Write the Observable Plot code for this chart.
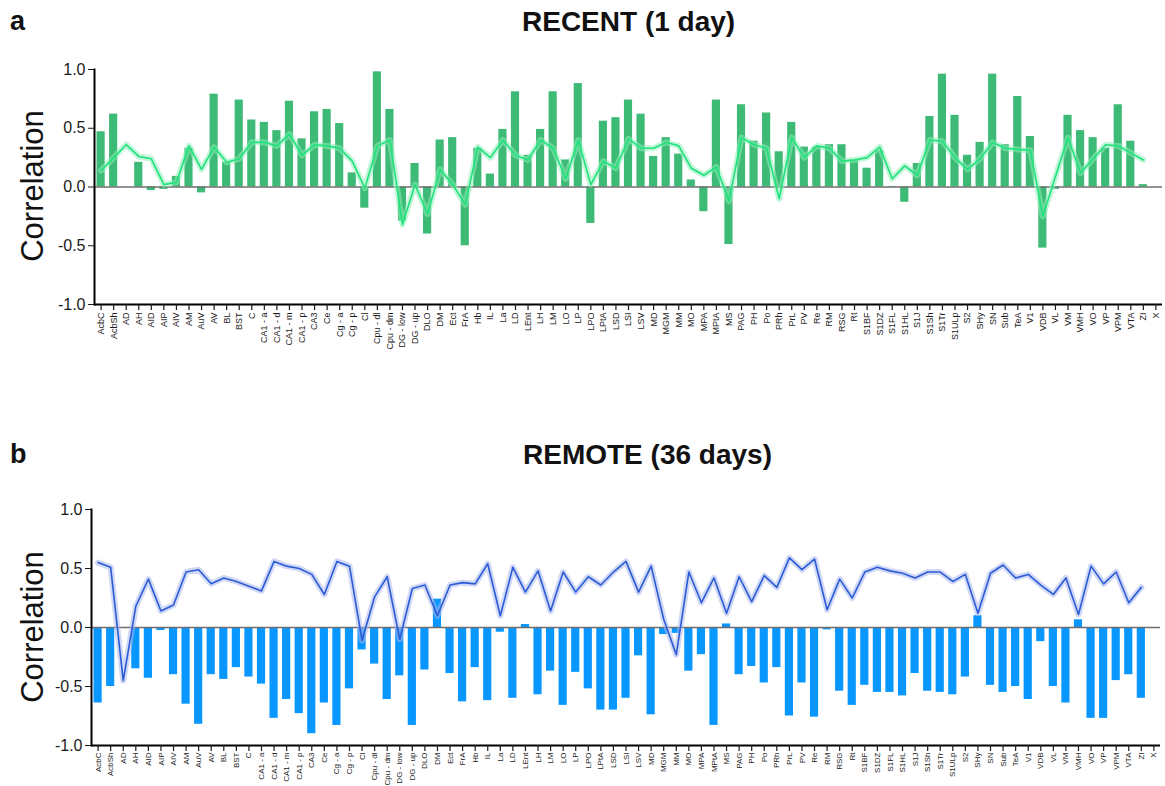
<!DOCTYPE html>
<html><head><meta charset="utf-8">
<script src="https://cdn.jsdelivr.net/npm/d3@7"></script>
<script src="https://cdn.jsdelivr.net/npm/@observablehq/plot@0.6"></script>
<style>
body{margin:0;background:#fff;overflow:hidden;font-family:"Liberation Sans",Arial,sans-serif;}
#wrap{position:relative;width:1165px;height:786px;overflow:hidden;background:#fff;}
.abs{position:absolute;}
.letter{font-weight:bold;font-size:27px;line-height:1;color:#111;}
.title{font-weight:bold;font-size:28px;line-height:1;white-space:nowrap;color:#111;}
.ylab{font-size:31px;line-height:1;white-space:nowrap;color:#111;transform:translate(-50%,-50%) rotate(-90deg);}
</style></head><body><div id="wrap"></div>
<script>
const regions = ["AcbC","AcbSh","AD","AH","AID","AIP","AIV","AM","AuV","AV","BL","BST","C","CA1 - a","CA1 - d","CA1 - m","CA1 - p","CA3","Ce","Cg - a","Cg - p","Cl","Cpu - dl","Cpu - dm","DG - low","DG - up","DLO","DM","Ect","FrA","Hb","IL","La","LD","LEnt","LH","LM","LO","LP","LPO","LPtA","LSD","LSI","LSV","MD","MGM","MM","MO","MPA","MPtA","MS","PAG","PH","Po","PRh","PrL","PV","Re","RM","RSG","Rt","S1BF","S1DZ","S1FL","S1HL","S1J","S1Sh","S1Tr","S1ULp","S2","SHy","SN","Sub","TeA","V1","VDB","VL","VM","VMH","VO","VP","VPM","VTA","ZI","X"];

const recentBars = [0.47,0.62,null,0.21,-0.03,-0.02,0.09,0.33,-0.05,0.79,0.21,0.74,0.57,0.55,0.48,0.73,0.41,0.64,0.66,0.54,0.12,-0.18,0.98,0.66,-0.29,0.20,-0.40,0.40,0.42,-0.50,0.33,0.11,0.49,0.81,0.27,0.49,0.81,0.23,0.88,-0.31,0.56,0.59,0.74,0.62,0.26,0.42,0.28,0.06,-0.21,0.74,-0.49,0.70,0.39,0.63,0.30,0.55,0.34,0.34,0.36,0.36,0.23,0.16,0.31,0.005,-0.13,0.20,0.60,0.96,0.61,0.27,0.38,0.96,0.36,0.77,0.43,-0.52,-0.02,0.61,0.48,0.42,0.33,0.70,0.39,0.02,null];

const recentLine = [0.14,0.25,0.36,0.26,0.24,0.02,0.04,0.35,0.15,0.34,0.21,0.24,0.38,0.38,0.35,0.45,0.27,0.36,0.35,0.33,0.22,-0.01,0.35,0.40,-0.32,0.02,-0.23,0.15,0.02,-0.15,0.34,0.25,0.40,0.27,0.23,0.40,0.33,0.07,0.40,0.02,0.22,0.16,0.41,0.33,0.33,0.38,0.35,0.16,0.10,0.17,-0.12,0.42,0.36,0.33,-0.10,0.42,0.25,0.35,0.33,0.22,0.23,0.25,0.34,0.07,0.18,0.10,0.40,0.39,0.25,0.15,0.24,0.38,0.33,0.32,0.31,-0.25,0.09,0.42,0.12,0.24,0.36,0.35,0.29,0.23,null];

const remoteBars = [-0.64,-0.50,null,-0.35,-0.43,-0.025,-0.40,-0.65,-0.82,-0.40,-0.44,-0.34,-0.42,-0.48,-0.77,-0.61,-0.73,-0.90,-0.64,-0.83,-0.52,-0.19,-0.31,-0.61,-0.41,-0.83,-0.36,0.24,-0.39,-0.63,-0.34,-0.62,-0.04,-0.60,0.025,-0.57,-0.37,-0.66,-0.38,-0.52,-0.70,-0.70,-0.60,-0.24,-0.74,-0.06,-0.05,-0.37,-0.23,-0.83,0.03,-0.40,-0.33,-0.47,-0.34,-0.75,-0.47,-0.76,-0.02,-0.54,-0.66,-0.49,-0.55,-0.55,-0.58,-0.39,-0.54,-0.55,-0.57,-0.42,0.10,-0.49,-0.55,-0.50,-0.61,-0.12,-0.50,-0.64,0.065,-0.77,-0.77,-0.45,-0.40,-0.60,null];

const remoteLine = [0.55,0.51,-0.45,0.18,0.41,0.14,0.19,0.47,0.49,0.37,0.42,0.39,0.35,0.31,0.56,0.52,0.50,0.45,0.28,0.56,0.52,-0.11,0.26,0.43,-0.10,0.33,0.36,0.10,0.36,0.38,0.37,0.54,0.10,0.51,0.30,0.48,0.14,0.47,0.30,0.43,0.36,0.47,0.56,0.30,0.52,0.07,-0.23,0.47,0.21,0.42,0.12,0.43,0.22,0.44,0.34,0.59,0.49,0.58,0.15,0.41,0.25,0.47,0.51,0.48,0.46,0.42,0.47,0.47,0.39,0.45,0.12,0.46,0.53,0.42,0.45,0.36,0.28,0.42,0.11,0.52,0.37,0.47,0.21,0.34,null];

const yTicks = [-1, -0.5, 0, 0.5, 1];

function panel({bars, line, barColor, lineColor, bandColor, height, marginBottom, marginLeft, marginRight, labelSize, labelPad}) {
  const data = regions.map((r, i) => ({r, bar: bars[i], line: line[i]}));
  return Plot.plot({
    width: 1165, height, marginTop: 69, marginBottom, marginLeft, marginRight,
    x: {type: "band", domain: regions, paddingInner: 0.35, paddingOuter: 0.2},
    y: {domain: [-1, 1]},
    style: {fontFamily: "Liberation Sans, Arial, sans-serif", fontSize: labelSize + "px", color: "#1a1a1a", background: "transparent", overflow: "visible"},
    marks: [
      Plot.barY(data.filter(d => d.bar != null), {x: "r", y: "bar", fill: barColor}),
      Plot.ruleY([0], {stroke: "#6e6e6e", strokeWidth: 1.3}),
      Plot.line(data, {x: "r", y: "line", stroke: bandColor, strokeWidth: 6, strokeOpacity: 0.55}),
      Plot.line(data, {x: "r", y: "line", stroke: lineColor, strokeWidth: 1.6}),
      Plot.frame({anchor: "left", stroke: "#000", strokeWidth: 2}),
      Plot.ruleY([-1], {stroke: "#000", strokeWidth: 2}),
      Plot.axisY({ticks: yTicks, tickFormat: d => d.toFixed(1), fontSize: 16, tickSize: 6, tickPadding: 3, label: null}),
      Plot.axisX({tickRotate: -90, tickSize: 6, tickPadding: labelPad, label: null, fontSize: labelSize, strokeWidth: 1.2})
    ]
  });
}

const wrap = document.getElementById("wrap");
function addDiv(cls, text, left, top) {
  const d = document.createElement("div");
  d.className = "abs " + cls;
  d.textContent = text;
  d.style.left = left + "px";
  d.style.top = top + "px";
  wrap.appendChild(d);
  return d;
}

const a = panel({bars: recentBars, line: recentLine, barColor: "#3dba76", lineColor: "#1fe27c", bandColor: "#8eeeb8", height: 360, marginBottom: 56, marginLeft: 94, marginRight: 3, labelSize: 9, labelPad: 2});
a.style.position = "absolute"; a.style.left = "0px"; a.style.top = "0px";
wrap.appendChild(a);

const b = panel({bars: remoteBars, line: remoteLine, barColor: "#0896ff", lineColor: "#2b5cd6", bandColor: "#a9b8ee", height: 346, marginBottom: 41, marginLeft: 91, marginRight: 5, labelSize: 8, labelPad: 1});
b.style.position = "absolute"; b.style.left = "0px"; b.style.top = "440px";
wrap.appendChild(b);

addDiv("letter", "a", 10, 8);
addDiv("title", "RECENT (1 day)", 522, 8);
addDiv("ylab", "Correlation", 32, 186);
addDiv("letter", "b", 10, 441);
addDiv("title", "REMOTE (36 days)", 523, 441);
addDiv("ylab", "Correlation", 32, 627);
</script>
</body></html>
